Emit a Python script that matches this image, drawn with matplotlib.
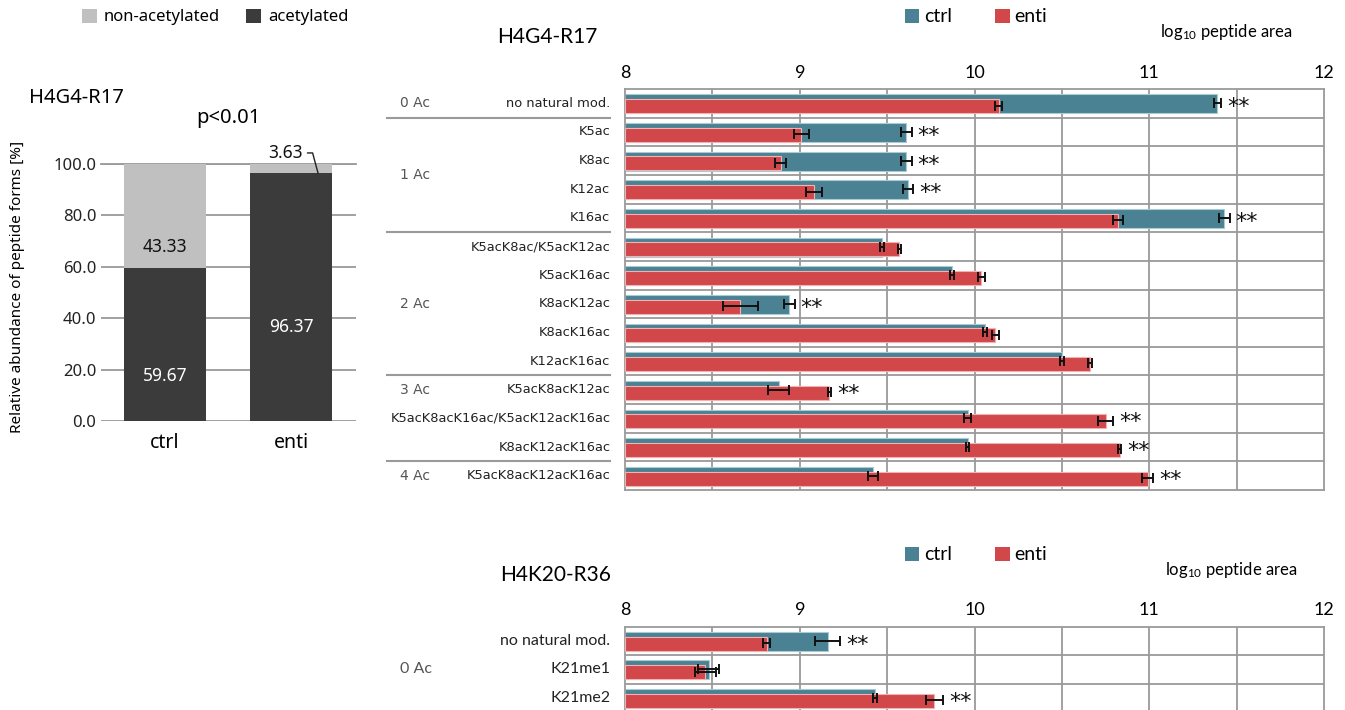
import numpy as np
import matplotlib
matplotlib.use("Agg")
import matplotlib.pyplot as plt
from matplotlib.patches import Patch
from matplotlib.transforms import blended_transform_factory

plt.rcParams.update({
    "font.family": ["DejaVu Sans"],
    "mathtext.fontset": "custom",
    "mathtext.rm": "Lato",
    "mathtext.it": "Lato:italic",
})

TEAL = "#4a8193"
RED = "#d1474a"
LIGHT = "#c0c0c0"
DARK = "#3b3b3b"
GRID = "#9a9a9a"
NARROW = "Lato"
SANS = "Noto Sans"

# ---- stacked bars: relative abundance ----
groups = ["ctrl", "enti"]
acetylated = [59.67, 96.37]
non_acetylated = [43.33, 3.63]
acetyl_label_y = [17.5, 36.6]

# ---- H4G4-R17 log10 peptide area ----
top_labels = ["no natural mod.", "K5ac", "K8ac", "K12ac", "K16ac",
              "K5acK8ac/K5acK12ac", "K5acK16ac", "K8acK12ac", "K8acK16ac",
              "K12acK16ac", "K5acK8acK12ac", "K5acK8acK16ac/K5acK12acK16ac",
              "K8acK12acK16ac", "K5acK8acK12acK16ac"]
top_ctrl = [11.39, 9.61, 9.61, 9.62, 11.43, 9.47, 9.87, 8.94, 10.06, 10.50,
            8.88, 9.96, 9.96, 9.42]
top_ctrl_err = [0.02, 0.03, 0.03, 0.03, 0.03, 0.01, 0.01, 0.03, 0.01, 0.01,
                0.06, 0.02, 0.01, 0.03]
top_enti = [10.14, 9.01, 8.89, 9.08, 10.82, 9.57, 10.04, 8.66, 10.12, 10.66,
            9.17, 10.75, 10.83, 10.99]
top_enti_err = [0.02, 0.045, 0.03, 0.045, 0.03, 0.01, 0.02, 0.10, 0.02, 0.01,
                0.01, 0.045, 0.01, 0.03]
top_sig = [1, 1, 1, 1, 1, 0, 0, 1, 0, 0, 1, 1, 1, 1]
top_groups = ["0 Ac", "1 Ac", "2 Ac", "3 Ac", "4 Ac"]
top_group_row = [0, 2.5, 7, 10, 13]
top_group_breaks = [0.5, 4.5, 9.5, 12.5]

# ---- H4K20-R36 log10 peptide area ----
bot_labels = ["no natural mod.", "K21me1", "K21me2"]
bot_ctrl = [9.16, 8.48, 9.43]
bot_ctrl_err = [0.07, 0.06, 0.01]
bot_enti = [8.81, 8.46, 9.77]
bot_enti_err = [0.02, 0.06, 0.05]
bot_sig = [1, 0, 1]
bot_groups = ["0 Ac"]
bot_group_row = [1]
bot_group_breaks = []

fig = plt.figure(figsize=(13.45, 7.10), dpi=100)


def hbar_panel(ax, labels, ctrl, cerr, enti, eerr, sig, grp, grp_row, breaks,
               label_font, label_size, group_size):
    n = len(labels)
    y = np.arange(n)
    ax.barh(y + 0.02, np.array(ctrl) - 8, left=8, height=0.66, color=TEAL,
            edgecolor="#a9cbd3", linewidth=0.8, zorder=2)
    ax.barh(y + 0.10, np.array(enti) - 8, left=8, height=0.49, color=RED,
            edgecolor="#f0b3b3", linewidth=0.8, zorder=3)
    ax.errorbar(ctrl, y + 0.0, xerr=cerr, fmt="none", ecolor="#111111",
                elinewidth=1.4, capsize=3.3, capthick=1.4, zorder=4)
    ax.errorbar(enti, y + 0.08, xerr=eerr, fmt="none", ecolor="#111111",
                elinewidth=1.4, capsize=3.3, capthick=1.4, zorder=4)
    for i in range(n):
        if sig[i]:
            xs = max(ctrl[i] + cerr[i], enti[i] + eerr[i]) + 0.035
            ax.text(xs, i + 0.14, "**", fontsize=16, ha="left", va="center",
                    color="#111111", zorder=5)

    ax.set_xlim(8, 12)
    ax.set_ylim(n - 0.5, -0.5)
    for gx in np.arange(8.5, 12, 0.5):
        ax.axvline(gx, color=GRID, lw=1.3, zorder=1)
    for gy in np.arange(0.5, n - 0.5, 1):
        ax.axhline(gy, color=GRID, lw=1.3, zorder=1)
    for s in ax.spines.values():
        s.set_color(GRID)
        s.set_linewidth(1.3)

    ax.xaxis.tick_top()
    ax.set_xticks([8, 9, 10, 11, 12])
    ax.set_xticklabels(["8", "9", "10", "11", "12"], fontfamily=NARROW,
                       fontsize=13)
    ax.tick_params(axis="x", length=0, pad=6)
    ax.set_yticks([])

    tr = blended_transform_factory(ax.transAxes, ax.transData)
    for i, lab in enumerate(labels):
        ax.text(-0.021, i, lab, transform=tr, ha="right", va="center",
                fontsize=label_size, fontfamily=label_font, color="#222222")
    for lab, r in zip(grp, grp_row):
        ax.text(-0.322, r, lab, transform=tr, ha="left", va="center",
                fontsize=group_size, fontfamily=label_font, color="#555555")
    for b in breaks:
        ax.plot([-0.340, -0.021], [b, b], transform=tr, color=GRID, lw=1.5,
                clip_on=False)


# top horizontal panel
ax_top = fig.add_axes([625 / 1345, 1 - 490 / 710, 699 / 1345, 401 / 710])
hbar_panel(ax_top, top_labels, top_ctrl, top_ctrl_err, top_enti, top_enti_err,
           top_sig, top_groups, top_group_row, top_group_breaks,
           "DejaVu Sans", 9.4, 10)
fig.text(497 / 1345, 1 - 37 / 710, "H4G4-R17", fontsize=15,
         fontfamily=NARROW, ha="left", va="center")
fig.text(1160 / 1345, 1 - 32 / 710, r"log$_{\mathrm{10}}$ peptide area",
         fontsize=12, fontfamily=NARROW, ha="left", va="center")

# bottom horizontal panel
ax_bot = fig.add_axes([625 / 1345, 1 - 712 / 710, 699 / 1345, 85.5 / 710])
hbar_panel(ax_bot, bot_labels, bot_ctrl, bot_ctrl_err, bot_enti, bot_enti_err,
           bot_sig, bot_groups, bot_group_row, bot_group_breaks, NARROW, 11.5,
           11.5)
fig.text(500 / 1345, 1 - 575 / 710, "H4K20-R36", fontsize=15,
         fontfamily=NARROW, ha="left", va="center")
fig.text(1165 / 1345, 1 - 570 / 710, r"log$_{\mathrm{10}}$ peptide area",
         fontsize=12, fontfamily=NARROW, ha="left", va="center")

handles = [Patch(facecolor=TEAL, label="ctrl"), Patch(facecolor=RED, label="enti")]
for ly in (1 - 17 / 710, 1 - 555 / 710):
    fig.legend(handles=handles, loc="center", bbox_to_anchor=(976 / 1345, ly),
               ncol=2, frameon=False, handlelength=0.75, handleheight=0.75,
               handletextpad=0.25, columnspacing=2.2,
               prop={"family": NARROW, "size": 14})

# stacked bar panel
ax_st = fig.add_axes([101 / 1345, 1 - 421 / 710, 255 / 1345, 257 / 710])
xpos = np.arange(len(groups))
ax_st.bar(xpos, acetylated, width=0.65, color=DARK, zorder=2)
ax_st.bar(xpos, non_acetylated, width=0.65, bottom=acetylated, color=LIGHT,
          zorder=2)
ax_st.set_ylim(0, 100)
ax_st.set_xlim(-0.508, 1.516)
ax_st.set_yticks(np.arange(0, 101, 20))
ax_st.set_yticklabels([f"{v:.1f}" for v in np.arange(0, 101, 20)],
                      fontfamily=SANS, fontsize=12, color="#222222")
ax_st.set_xticks(xpos)
ax_st.set_xticklabels(groups, fontfamily=SANS, fontsize=14)
ax_st.tick_params(length=0)
ax_st.tick_params(axis="x", pad=9)
ax_st.yaxis.grid(True, color=GRID, lw=1.3, zorder=0)
ax_st.set_axisbelow(True)
for s in ax_st.spines.values():
    s.set_visible(False)
ax_st.axhline(100, color=GRID, lw=1.3, zorder=1, clip_on=False)

ax_st.text(0, acetyl_label_y[0], f"{acetylated[0]:.2f}", ha="center",
           va="center", color="white", fontfamily=SANS, fontsize=12.5, zorder=3)
ax_st.text(1, acetyl_label_y[1], f"{acetylated[1]:.2f}", ha="center",
           va="center", color="white", fontfamily=SANS, fontsize=12.5, zorder=3)
ax_st.text(0, 67.7, f"{non_acetylated[0]:.2f}", ha="center", va="center",
           color="#111111", fontfamily=SANS, fontsize=12.5, zorder=3)
ax_st.annotate(f"{non_acetylated[1]:.2f}", xy=(1.215, acetylated[1]),
               xytext=(0.96, 104.3), ha="center", va="center",
               fontfamily=SANS, fontsize=12.5, color="#111111",
               annotation_clip=False,
               arrowprops=dict(arrowstyle="-", color="#222222", lw=1,
                               shrinkA=1, shrinkB=0, relpos=(1, 0.5),
                               connectionstyle="angle,angleA=0,angleB=105,rad=0"))

fig.text(29 / 1345, 1 - 98 / 710, "H4G4-R17", fontsize=14.5, fontfamily=SANS,
         ha="left", va="center")
fig.text(228 / 1345, 1 - 118 / 710, "p<0.01", fontsize=14.5, fontfamily=SANS,
         ha="center", va="center")
fig.text(18 / 1345, 1 - 287 / 710, "Relative abundance of peptide forms [%]",
         rotation=90, fontsize=11, fontfamily=SANS, ha="center", va="center")
st_handles = [Patch(facecolor=LIGHT, label="non-acetylated"),
              Patch(facecolor=DARK, label="acetylated")]
fig.legend(handles=st_handles, loc="center", bbox_to_anchor=(215 / 1345, 1 - 17 / 710),
           ncol=2, frameon=False, handlelength=0.9, handleheight=0.9,
           handletextpad=0.4, columnspacing=1.6, prop={"family": SANS, "size": 12})

fig.savefig("out.png", dpi=100)
